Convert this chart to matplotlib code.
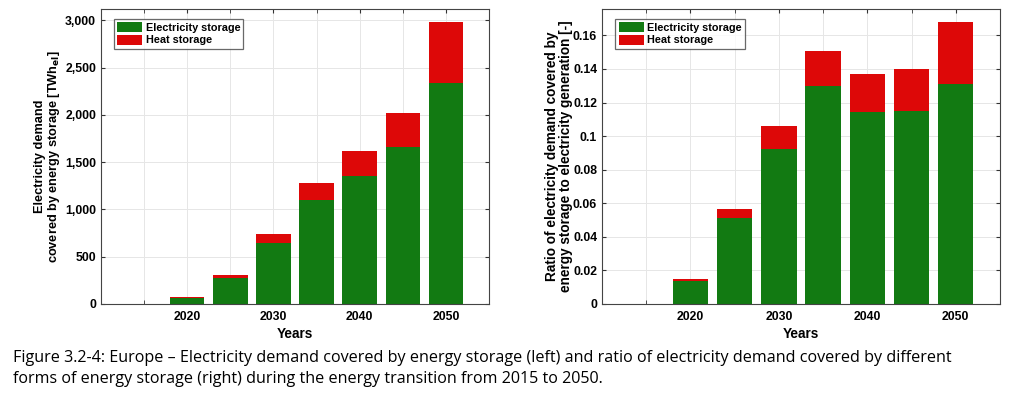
import matplotlib
matplotlib.use("Agg")
import matplotlib.pyplot as plt
from matplotlib.ticker import FuncFormatter, MultipleLocator

# data
years = [2020, 2025, 2030, 2035, 2040, 2045, 2050]
demand_elec = [67, 272, 640, 1105, 1352, 1662, 2335]
demand_heat = [5, 35, 98, 176, 261, 353, 644]
ratio_elec = [0.0139, 0.0512, 0.0923, 0.1298, 0.1145, 0.1147, 0.1312]
ratio_heat = [0.0012, 0.0054, 0.0137, 0.0211, 0.0225, 0.0251, 0.0365]

GREEN = "#127a12"
RED = "#dd0808"

plt.rcParams['font.family'] = ['Liberation Sans', 'DejaVu Sans']
plt.rcParams['font.weight'] = 'bold'
plt.rcParams['axes.labelweight'] = 'bold'

fig = plt.figure(figsize=(10.23, 3.97), dpi=100)
ax1 = fig.add_axes([101 / 1023, 1 - 304 / 397, 388 / 1023, 295 / 397])
ax2 = fig.add_axes([602 / 1023, 1 - 304 / 397, 398 / 1023, 295 / 397])


def style(ax):
	ax.set_xlim(2010, 2055)
	ax.xaxis.set_minor_locator(MultipleLocator(5))
	ax.set_xticks([2020, 2030, 2040, 2050])
	ax.grid(True, which='both', color='#e6e6e6', linewidth=0.7)
	ax.set_axisbelow(True)
	ax.tick_params(which='both', direction='in', top=True, right=True,
		labelsize=8.8, length=3, color='#333333')
	ax.tick_params(axis='x', pad=5)
	for s in ax.spines.values():
		s.set_color('#444444')
		s.set_linewidth(0.8)
	for lbl in ax.get_xticklabels() + ax.get_yticklabels():
		lbl.set_fontweight('bold')
	ax.set_xlabel('Years', fontsize=9.8, labelpad=3)
	leg = ax.legend(loc='upper left', fontsize=7.8, frameon=True, fancybox=False,
		edgecolor='#444444', handlelength=2.3, handleheight=1.1,
		borderpad=0.3, labelspacing=0.15, handletextpad=0.3,
		bbox_to_anchor=(0.02, 0.985))
	leg.get_frame().set_linewidth(0.9)
	for t in leg.get_texts():
		t.set_fontweight('bold')


ax1.bar(years, demand_elec, width=4, color=GREEN, label='Electricity storage')
ax1.bar(years, demand_heat, width=4, bottom=demand_elec, color=RED, label='Heat storage')
ax1.set_ylim(0, 3120)
ax1.yaxis.set_major_locator(MultipleLocator(500))
ax1.yaxis.set_major_formatter(FuncFormatter(lambda v, p: f"{int(v):,}"))
ax1.set_ylabel('Electricity demand\ncovered by energy storage [TWh$_\\mathbf{el}$]',
	fontsize=9.2, linespacing=1.0)
ax1.yaxis.set_label_coords(-0.10, 0.5)
style(ax1)

ax2.bar(years, ratio_elec, width=4, color=GREEN, label='Electricity storage')
ax2.bar(years, ratio_heat, width=4, bottom=ratio_elec, color=RED, label='Heat storage')
ax2.set_ylim(0, 0.1757)
ax2.yaxis.set_major_locator(MultipleLocator(0.02))
ax2.yaxis.set_major_formatter(FuncFormatter(lambda v, p: f"{v:.2f}".rstrip('0').rstrip('.') if v != 0 else "0"))
ax2.set_ylabel('Ratio of electricity demand covered by\nenergy storage to electricity generation [-]',
	fontsize=9.8, linespacing=1.0)
ax2.yaxis.set_label_coords(-0.074, 0.5)
style(ax2)

caption = ("Figure 3.2-4: Europe \u2013 Electricity demand covered by energy storage (left) and ratio of electricity demand covered by different\n"
	"forms of energy storage (right) during the energy transition from 2015 to 2050.")
fig.text(13 / 1023, 1 - 350 / 397, caption, fontsize=11.6, fontweight='normal',
	family=['Open Sans', 'DejaVu Sans'], va='top', ha='left', linespacing=1.45)

fig.savefig('out.png', dpi=100)
